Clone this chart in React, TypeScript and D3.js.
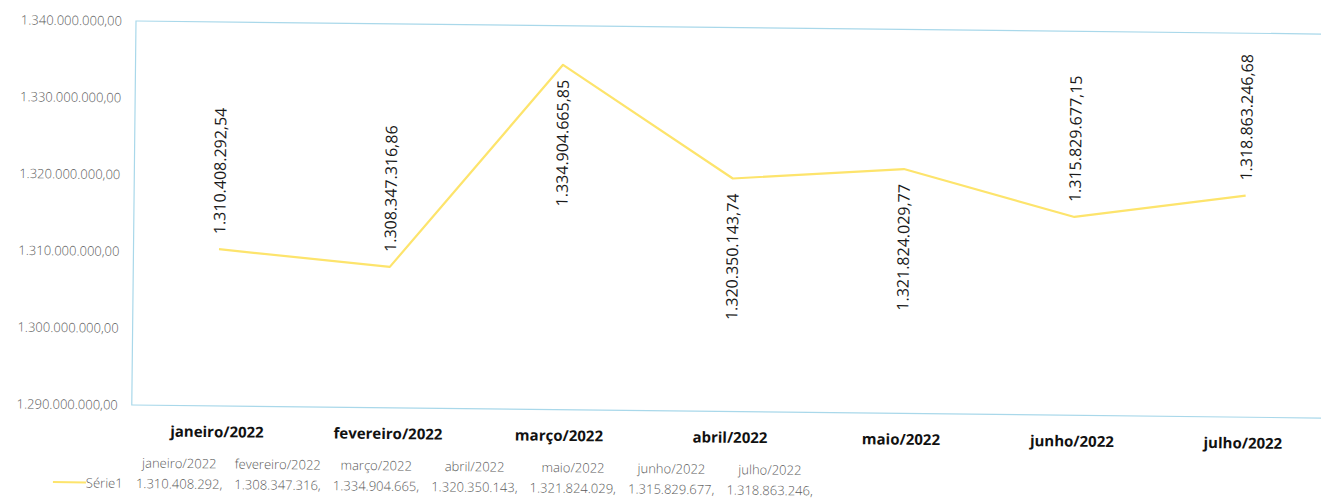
import * as d3 from 'd3';
import { useEffect, useRef } from 'react';

// chart data
const months = ['janeiro/2022', 'fevereiro/2022', 'março/2022', 'abril/2022', 'maio/2022', 'junho/2022', 'julho/2022'];
const values = [1310408292.54, 1308347316.86, 1334904665.85, 1320350143.74, 1321824029.77, 1315829677.15, 1318863246.68];
const labelSide = ['above', 'above', 'below', 'below', 'below', 'above', 'above'];
const yTicks = [1290000000, 1300000000, 1310000000, 1320000000, 1330000000, 1340000000];
const seriesName = 'Série1';

const ptBR = d3.formatLocale({ decimal: ',', thousands: '.', grouping: [3], currency: ['R$', ''] });
const fmt2 = ptBR.format(',.2f');
const fmtInt = ptBR.format(',d');

const FONT = '"Open Sans", "DejaVu Sans", sans-serif';
const LINE_COLOR = '#fde46c';
// the scan is tilted slightly clockwise
const TILT = 0.63;

function draw(node: SVGSVGElement) {
    const svg = d3.select(node);
    svg.selectAll('*').remove();

    const plot = { left: 136, top: 21, width: 1197, height: 384 };
    const bottom = plot.top + plot.height;

    const root = svg.append('g').attr('transform', `rotate(${TILT} ${plot.left} ${plot.top})`);

    const x = d3.scaleBand<string>().domain(months).range([plot.left, plot.left + plot.width]).padding(0);
    const y = d3.scaleLinear().domain([yTicks[0], yTicks[yTicks.length - 1]]).range([bottom, plot.top]);
    const cx = (i: number) => (x(months[i]) as number) + x.bandwidth() / 2;

    // plot frame
    root.append('rect')
        .attr('x', plot.left)
        .attr('y', plot.top)
        .attr('width', plot.width)
        .attr('height', plot.height)
        .attr('fill', 'none')
        .attr('stroke', '#a9d8ea')
        .attr('stroke-width', 1.2);

    // y axis
    const yAxis = d3.axisLeft(y).tickValues(yTicks).tickSize(0).tickPadding(14).tickFormat((d: any) => fmt2(d));
    root.append('g')
        .attr('transform', `translate(${plot.left},0)`)
        .call(yAxis)
        .call((s) => s.select('.domain').remove())
        .call((s) => s.selectAll('text')
            .attr('font-family', FONT)
            .attr('font-size', '13px')
            .attr('font-weight', 300)
            .attr('fill', '#5a5a5a'));

    // x axis
    const xAxis = d3.axisBottom(x).tickSize(0);
    root.append('g')
        .attr('transform', `translate(0,${bottom})`)
        .call(xAxis)
        .call((s) => s.select('.domain').remove())
        .call((s) => s.selectAll('text')
            .attr('y', 26)
            .attr('dy', '0.35em')
            .attr('font-family', FONT)
            .attr('font-size', '15px')
            .attr('font-weight', 700)
            .attr('fill', '#111'));

    // series line
    const line = d3.line<number>()
        .x((d, i) => cx(i))
        .y((d) => y(d));

    root.append('path')
        .datum(values)
        .attr('d', line)
        .attr('fill', 'none')
        .attr('stroke', LINE_COLOR)
        .attr('stroke-width', 2.2)
        .attr('stroke-linejoin', 'round');

    // rotated data labels
    const gap = 15;
    root.append('g')
        .selectAll('text')
        .data(values)
        .join('text')
        .attr('transform', (d, i) => {
            const py = labelSide[i] === 'above' ? y(d) - gap : y(d) + gap;
            return `translate(${cx(i)},${py}) rotate(-90)`;
        })
        .attr('text-anchor', (d, i) => (labelSide[i] === 'above' ? 'start' : 'end'))
        .attr('dominant-baseline', 'central')
        .attr('font-family', FONT)
        .attr('font-size', '16px')
        .attr('fill', '#1a1a1a')
        .text((d) => fmt2(d));

    // data table legend below the chart
    const lx = d3.scaleBand<string>().domain(months).range([135, 824]);
    const legend = root.append('g')
        .attr('font-family', FONT)
        .attr('font-size', '13px')
        .attr('font-weight', 300)
        .attr('fill', '#5a5a5a');

    legend.selectAll('.hdr')
        .data(months)
        .join('text')
        .attr('class', 'hdr')
        .attr('x', (d) => (lx(d) as number) + lx.bandwidth() / 2)
        .attr('y', 462.5)
        .attr('dominant-baseline', 'central')
        .attr('text-anchor', 'middle')
        .text((d) => d);

    legend.selectAll('.val')
        .data(values)
        .join('text')
        .attr('class', 'val')
        .attr('x', (d, i) => (lx(months[i]) as number) + lx.bandwidth() / 2)
        .attr('y', 483)
        .attr('dominant-baseline', 'central')
        .attr('text-anchor', 'middle')
        .text((d) => fmtInt(Math.trunc(d)) + ',');

    legend.append('line')
        .attr('x1', 58)
        .attr('x2', 91)
        .attr('y1', 483)
        .attr('y2', 483)
        .attr('stroke', LINE_COLOR)
        .attr('stroke-width', 2);

    legend.append('text')
        .attr('x', 91)
        .attr('y', 483)
        .attr('dominant-baseline', 'central')
        .text(seriesName);
}

export default function App() {
    const ref = useRef<SVGSVGElement>(null);
    useEffect(() => {
        if (ref.current) draw(ref.current);
    }, []);
    return (
        <svg
            ref={ref}
            width={1321}
            height={498}
            style={{ position: 'absolute', left: 0, top: 0, background: '#fff' }}
        />
    );
}
